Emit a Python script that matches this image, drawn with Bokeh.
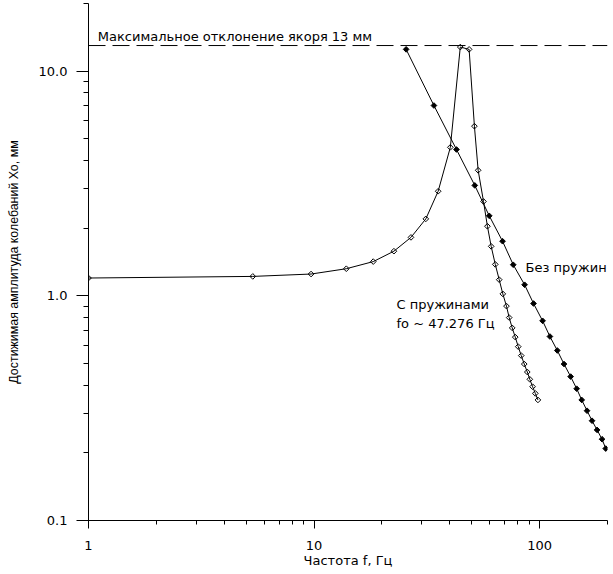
from bokeh.plotting import figure
from bokeh.models import Span, Label, CustomJSTickFormatter
from bokeh.embed import file_html
from bokeh.resources import INLINE

# С пружинами (with springs)
f_spr = [1.0, 5.35, 9.7, 13.9, 18.3, 22.6, 26.9, 31.3, 35.5, 40.2, 44.5, 48.7,
         51.4, 53.4, 56.4, 58.7, 61.0, 63.6, 66.2, 68.7, 71.3, 73.3, 75.6, 78.0,
         80.4, 82.9, 85.5, 88.2, 90.5, 93.1, 95.7, 98.3]
x_spr = [1.20, 1.22, 1.25, 1.32, 1.42, 1.58, 1.82, 2.20, 2.92, 4.58, 12.8, 12.5,
         5.69, 3.62, 2.63, 2.04, 1.66, 1.38, 1.18, 1.02, 0.90, 0.80, 0.72, 0.655,
         0.594, 0.542, 0.497, 0.458, 0.425, 0.394, 0.368, 0.344]

# Без пружин (without springs)
f_nos = [25.6, 34.0, 42.8, 51.6, 59.8, 68.5, 76.4, 85.8, 94.0, 103.1, 111.1,
         119.8, 128.3, 137.3, 146.0, 153.7, 162.3, 170.8, 179.8, 189.2, 196.4]
x_nos = [12.5, 7.03, 4.48, 3.10, 2.27, 1.75, 1.375, 1.12, 0.924, 0.774, 0.659,
         0.571, 0.497, 0.437, 0.386, 0.344, 0.308, 0.278, 0.253, 0.230, 0.209]

max_dev = 13.0

FONT = "DejaVu Sans"
FS = "13px"

p = figure(x_axis_type="log", y_axis_type="log",
           x_range=(1, 200), y_range=(0.1, 20),
           frame_width=519, frame_height=517,
           min_border_left=88, min_border_right=5,
           min_border_top=3, min_border_bottom=44,
           output_backend="svg", toolbar_location=None,
           background_fill_color="white", border_fill_color="white")
p.outline_line_color = None
p.grid.visible = False

for ax in (p.xaxis[0], p.yaxis[0]):
    ax.axis_line_color = "black"
    ax.major_tick_line_color = "black"
    ax.minor_tick_line_color = "black"
    ax.major_tick_in = 0
    ax.minor_tick_in = 0
    ax.major_label_text_font = FONT
    ax.major_label_text_font_size = FS
    ax.major_label_text_color = "black"
    ax.axis_label_text_font = FONT
    ax.axis_label_text_font_size = FS
    ax.axis_label_text_font_style = "normal"
    ax.axis_label_text_color = "black"
    ax.major_label_standoff = 9

p.xaxis.major_tick_out = 8
p.xaxis.minor_tick_out = 4
p.xaxis.major_label_standoff = 12
p.xaxis.axis_label = "Частота f, Гц"
p.xaxis.axis_label_standoff = 0
p.xaxis.formatter = CustomJSTickFormatter(code="return tick.toFixed(0);")

p.yaxis.major_tick_out = 12
p.yaxis.minor_tick_out = 5
p.yaxis.axis_label = "Достижимая амплитуда колебаний Хо, мм"
p.yaxis.axis_label_text_font = "Liberation Sans"
p.yaxis.axis_label_text_font_size = "12.4px"
p.yaxis.axis_label_standoff = 15
p.yaxis.formatter = CustomJSTickFormatter(code="return tick.toFixed(1);")

p.add_layout(Span(location=max_dev, dimension="width", line_color="black",
                  line_width=1, line_dash="17 7"))

p.line(f_spr, x_spr, line_color="black", line_width=1)
p.scatter(f_spr, x_spr, marker="square", angle=0.785398, size=4,
          line_color="black", line_width=1, fill_color=None)

p.line(f_nos, x_nos, line_color="black", line_width=1)
p.scatter(f_nos, x_nos, marker="square", angle=0.785398, size=4,
          line_color="black", line_width=1, fill_color="black")

def lab(x, y, t):
    p.add_layout(Label(x=x, y=y, text=t, text_font=FONT, text_font_size=FS,
                       text_color="black", text_baseline="alphabetic"))

lab(1.1, 14.3, "Максимальное отклонение якоря 13 мм")
lab(86.7, 1.338, "Без пружин")
lab(23.2, 0.916, "С пружинами")
lab(23.2, 0.7535, "fo ~ 47.276 Гц")

open("out.html", "w").write(file_html(p, INLINE))
